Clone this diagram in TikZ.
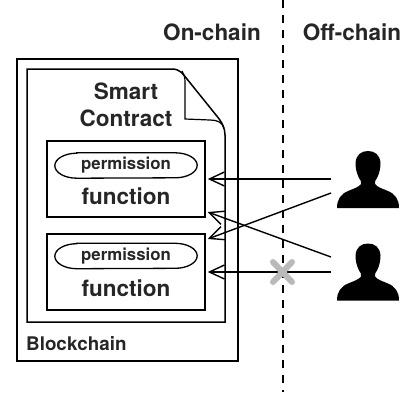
\documentclass[tikz,border=0pt]{standalone}
\usepackage{fontspec}
\setmainfont{TeX Gyre Heros}
\usetikzlibrary{arrows.meta,calc}
\tikzset{x=1pt,y=-1pt,
 boxy/.style={draw=black,line width=1.5pt,minimum width=158pt,minimum height=76pt,inner sep=0pt},
 permi/.style={minimum width=142pt,minimum height=25pt,inner sep=0pt,font=\bfseries\fontsize{16.8}{18}\selectfont,text=black!85},
 pill/.style={draw=black,line width=1.3pt},
 lab/.style={font=\bfseries\fontsize{22.5}{24}\selectfont,text=black!85,inner sep=0pt},
 func/.style={font=\bfseries\fontsize{22.5}{24}\selectfont,text=black!85,inner sep=0pt},
 link/.style={draw=black,line width=1.4pt,-{Straight Barb[length=15pt,width=14pt,line width=1.4pt]}},
}
\newcommand{\pillaround}[1]{%
 \draw[pill] ([xshift=22pt]#1.north west) -- ([xshift=-22pt]#1.north east)
   arc[start angle=90,end angle=-90,x radius=22pt,y radius=12.5pt]
   -- ([xshift=22pt]#1.south west)
   arc[start angle=-90,end angle=-270,x radius=22pt,y radius=12.5pt] -- cycle;}
\newcommand{\personshape}[2]{%
 \fill[black] (#1+31,#2+57) -- (#1+0,#2+57)
  .. controls (#1+0,#2+48) and (#1+4,#2+43) .. (#1+11,#2+40)
  .. controls (#1+17,#2+37.5) and (#1+22,#2+36) .. (#1+24,#2+33)
  .. controls (#1+24.5,#2+31) and (#1+24,#2+30) .. (#1+22,#2+27)
  .. controls (#1+19.5,#2+22) and (#1+18.5,#2+17) .. (#1+18.5,#2+12)
  .. controls (#1+19,#2+4) and (#1+24,#2+0) .. (#1+31,#2+0)
  .. controls (#1+38,#2+0) and (#1+43,#2+4) .. (#1+43.5,#2+12)
  .. controls (#1+43.5,#2+17) and (#1+42.5,#2+22) .. (#1+40,#2+27)
  .. controls (#1+38,#2+30) and (#1+37.5,#2+31) .. (#1+38,#2+33)
  .. controls (#1+40,#2+36) and (#1+45,#2+37.5) .. (#1+51,#2+40)
  .. controls (#1+58,#2+43) and (#1+62,#2+48) .. (#1+62,#2+57) -- cycle;}
\begin{document}
\begin{tikzpicture}
\useasboundingbox (0,0) rectangle (406,392);
\draw[line width=1.4pt,dash pattern=on 8pt off 7pt] (283,0) -- (283,392);
\node[lab] (on) at (212,32) {On-chain};
\node[lab] (off) at (352,32) {Off-chain};
\node[draw=black,line width=1.3pt,minimum width=221pt,minimum height=302pt,inner sep=0pt] (chain) at (127.5,210) {};
\node[font=\bfseries\fontsize{18.8}{20}\selectfont,text=black!85,inner sep=0pt,anchor=west] (chainlab) at (26,344) {Blockchain};
% document
\draw[line width=1.5pt] (27,69) -- (172,69) .. controls (180,69) and (183,74) .. (187,79) -- (216,115) .. controls (222,122) and (225,128) .. (225,135) -- (225,322) -- (27,322) -- cycle;
\draw[line width=1.2pt] (182,71) .. controls (184,74) and (185,77) .. (185,82) -- (185,119) -- (210,120) .. controls (217,120) and (222,122) .. (224,128);
\node[lab,align=center,font=\bfseries\fontsize{22.5}{26.5}\selectfont] (sc) at (126,105) {Smart\\Contract};
\node[boxy] (f1) at (126,179) {};
\node[permi] (p1) at (126,165.5) {permission};
\pillaround{p1}
\node[func] (t1) at (126,196) {function};
\node[boxy] (f2) at (126,272) {};
\node[permi] (p2) at (126,256) {permission};
\pillaround{p2}
\node[func] (t2) at (126,288) {function};
\personshape{337}{151}
\personshape{337}{243.5}
\coordinate (u1a) at (331,179);
\coordinate (u1b) at (331,193);
\coordinate (u2a) at (331,257);
\coordinate (u2b) at (331,272);
\draw[link] (u1a) -- ([xshift=2pt]f1.east);
\draw[link] (u1b) -- ([xshift=2pt,yshift=33pt]f2.east);
\draw[link] (u2a) -- ([xshift=2pt,yshift=-33pt]f1.east);
\draw[link] (u2b) -- ([xshift=2pt]f2.east);
\draw[line width=6pt,draw=black!27,line cap=round] (273,262) -- (292,282) (292,262) -- (273,282);
\end{tikzpicture}
\end{document}
